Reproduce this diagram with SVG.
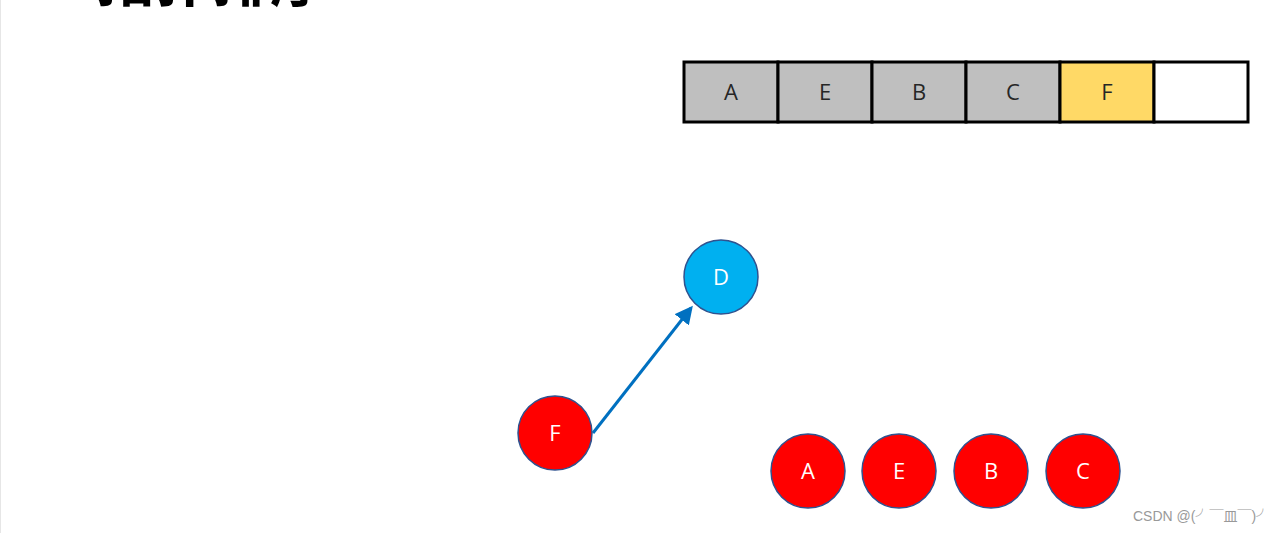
<svg xmlns="http://www.w3.org/2000/svg" width="1280" height="533" viewBox="0 0 1280 533">
<style>
.cell{stroke:#000;stroke-width:3}
.ct{font-family:"Open Sans","Noto Sans",sans-serif;font-size:22px;fill:#262626;text-anchor:middle}
.node{stroke:#2F528F;stroke-width:1.5}
.nt{font-family:"Open Sans","Noto Sans",sans-serif;font-size:22px;fill:#fff;text-anchor:middle}
</style>
<defs>
<marker id="ah" markerWidth="6" markerHeight="6" refX="5" refY="3" orient="auto" markerUnits="strokeWidth">
<path d="M0,0 L6,3 L0,6 z" fill="#0070C0"/>
</marker>
</defs>
<rect width="1280" height="533" fill="#fff"/>
<line x1="0.5" y1="0" x2="0.5" y2="533" stroke="#e6e6e6"/>
<text x="96" y="1" font-family="'Noto Sans CJK SC',sans-serif" font-weight="bold" font-size="58" fill="#000">拓扑排序</text>
<g id="queue">
<rect class="cell" x="684" y="62" width="94" height="60" fill="#BFBFBF"/>
<rect class="cell" x="778" y="62" width="94" height="60" fill="#BFBFBF"/>
<rect class="cell" x="872" y="62" width="94" height="60" fill="#BFBFBF"/>
<rect class="cell" x="966" y="62" width="94" height="60" fill="#BFBFBF"/>
<rect class="cell" x="1060" y="62" width="94" height="60" fill="#FFD966"/>
<rect class="cell" x="1154" y="62" width="94" height="60" fill="#FFFFFF"/>
<text class="ct" x="731" y="100">A</text>
<text class="ct" x="825" y="100">E</text>
<text class="ct" x="919" y="100">B</text>
<text class="ct" x="1013" y="100">C</text>
<text class="ct" x="1107" y="100">F</text>
</g>
<g id="connectors">
<line x1="593" y1="433" x2="691" y2="308" stroke="#0070C0" stroke-width="3" marker-end="url(#ah)"/>
</g>
<g id="node-D"><circle class="node" cx="721" cy="277" r="37" fill="#00B0F0"/><text class="nt" x="721" y="285">D</text></g>
<g id="node-F"><circle class="node" cx="555" cy="433" r="37" fill="#FF0000"/><text class="nt" x="555" y="441">F</text></g>
<g id="node-A"><circle class="node" cx="808" cy="471" r="37" fill="#FF0000"/><text class="nt" x="808" y="479">A</text></g>
<g id="node-E"><circle class="node" cx="899" cy="471" r="37" fill="#FF0000"/><text class="nt" x="899" y="479">E</text></g>
<g id="node-B"><circle class="node" cx="991" cy="471" r="37" fill="#FF0000"/><text class="nt" x="991" y="479">B</text></g>
<g id="node-C"><circle class="node" cx="1083" cy="471" r="37" fill="#FF0000"/><text class="nt" x="1083" y="479">C</text></g>
<text x="1133" y="521" font-family="'Liberation Sans','Noto Sans CJK SC',sans-serif" font-size="14" fill="#999">CSDN @(╯￣皿￣)╯</text>
</svg>
